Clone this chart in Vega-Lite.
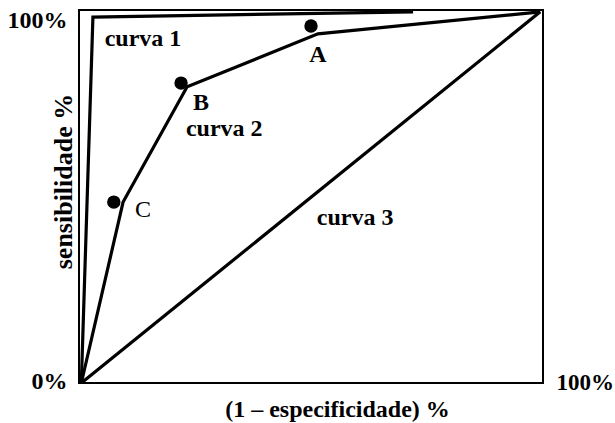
{
  "$schema": "https://vega.github.io/schema/vega-lite/v6.json",
  "width": 464,
  "height": 373,
  "autosize": "none",
  "padding": {"left": 79, "top": 10, "right": 72, "bottom": 40},
  "background": "white",
  "config": {
    "view": {"stroke": "black", "strokeWidth": 2},
    "font": "Liberation Serif"
  },
  "datasets": {
    "curves": [
      {"curve": "curva 1", "i": 0, "x": 0.5, "y": 0},
      {"curve": "curva 1", "i": 1, "x": 3.0, "y": 98.1},
      {"curve": "curva 1", "i": 2, "x": 72.0, "y": 99.5},
      {"curve": "curva 2", "i": 0, "x": 0.5, "y": 0},
      {"curve": "curva 2", "i": 1, "x": 9.5, "y": 48.5},
      {"curve": "curva 2", "i": 2, "x": 23.3, "y": 79.4},
      {"curve": "curva 2", "i": 3, "x": 51.5, "y": 93.6},
      {"curve": "curva 2", "i": 4, "x": 99.4, "y": 99.5},
      {"curve": "curva 3", "i": 0, "x": 0.5, "y": 0},
      {"curve": "curva 3", "i": 1, "x": 99.4, "y": 99.5}
    ],
    "points": [
      {"label": "A", "x": 50.0, "y": 95.7},
      {"label": "B", "x": 22.0, "y": 80.4},
      {"label": "C", "x": 7.5, "y": 48.5}
    ],
    "labels": [
      {"text": "curva 1", "x": 13.8, "y": 92.3},
      {"text": "curva 2", "x": 31.3, "y": 68.0},
      {"text": "curva 3", "x": 59.5, "y": 44.2},
      {"text": "A", "x": 51.5, "y": 87.9},
      {"text": "B", "x": 26.3, "y": 75.1},
      {"text": "C", "x": 13.8, "y": 46.4}
    ]
  },
  "layer": [
    {
      "data": {"name": "curves"},
      "mark": {"type": "line", "color": "black", "strokeWidth": 3.2, "clip": false},
      "encoding": {
        "x": {
          "field": "x", "type": "quantitative",
          "scale": {"domain": [0, 100], "nice": false},
          "axis": {
            "values": [100], "labelExpr": "'100%'", "ticks": false, "domain": false, "grid": false,
            "labelAlign": "left", "labelBaseline": "middle", "labelPadding": -1, "labelOffset": 13,
            "labelFont": "Liberation Serif", "labelFontWeight": "bold", "labelFontSize": 23, "labelColor": "black",
            "title": "(1 – especificidade) %", "titleFont": "Liberation Serif", "titleFontWeight": "bold",
            "titleFontSize": 24, "titleColor": "black", "titleBaseline": "middle", "titleAlign": "center",
            "titleX": 258, "titleY": 26
          }
        },
        "y": {
          "field": "y", "type": "quantitative",
          "scale": {"domain": [0, 100], "nice": false},
          "axis": {
            "values": [0, 100], "labelExpr": "datum.value + '%'", "ticks": false, "domain": false, "grid": false,
            "labelAlign": "right", "labelBaseline": {"condition": {"test": "datum.value == 100", "value": "top"}, "value": "middle"},
            "labelPadding": 12, "labelOffset": -2,
            "labelFont": "Liberation Serif", "labelFontWeight": "bold", "labelFontSize": 24, "labelColor": "black",
            "title": "sensibilidade %", "titleFont": "Liberation Serif", "titleFontWeight": "bold",
            "titleFontSize": 26, "titleColor": "black", "titleAngle": -90, "titleAlign": "center",
            "titleBaseline": "middle", "titleX": -16, "titleY": 171
          }
        },
        "detail": {"field": "curve"},
        "order": {"field": "i", "type": "quantitative"}
      }
    },
    {
      "data": {"name": "points"},
      "mark": {"type": "point", "filled": true, "color": "black", "opacity": 1, "size": 180},
      "encoding": {
        "x": {"field": "x", "type": "quantitative"},
        "y": {"field": "y", "type": "quantitative"}
      }
    },
    {
      "data": {"name": "labels"},
      "transform": [{"filter": "datum.text !== 'C'"}],
      "mark": {"type": "text", "font": "Liberation Serif", "fontWeight": "bold", "fontSize": 24, "color": "black", "align": "center", "baseline": "middle"},
      "encoding": {
        "x": {"field": "x", "type": "quantitative"},
        "y": {"field": "y", "type": "quantitative"},
        "text": {"field": "text"}
      }
    },
    {
      "data": {"name": "labels"},
      "transform": [{"filter": "datum.text === 'C'"}],
      "mark": {"type": "text", "font": "Liberation Serif", "fontWeight": "normal", "fontSize": 24, "color": "black", "align": "center", "baseline": "middle"},
      "encoding": {
        "x": {"field": "x", "type": "quantitative"},
        "y": {"field": "y", "type": "quantitative"},
        "text": {"field": "text"}
      }
    }
  ]
}
